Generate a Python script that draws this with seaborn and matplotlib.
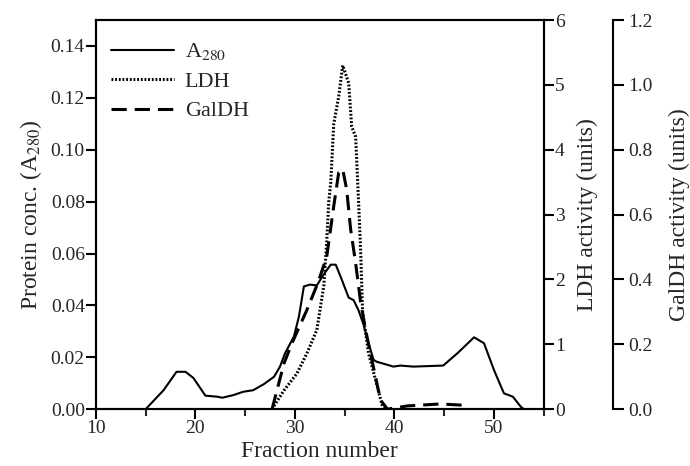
import seaborn as sns
import pandas as pd
import numpy as np
import matplotlib.pyplot as plt
from matplotlib.ticker import MultipleLocator, FormatStrFormatter

# A280 protein profile
a280_frac = [15.0, 16.8, 18.1, 19.0, 19.8, 21.0, 22.2, 22.7, 23.8, 24.8, 25.8, 26.9, 27.9, 28.5,
             29.0, 29.9, 30.4, 30.9, 31.5, 32.2, 32.9, 33.6, 34.1, 34.7, 35.4, 35.9, 36.4, 36.9,
             37.4, 37.9, 38.2, 39.9, 40.6, 41.9, 44.9, 46.4, 48.0, 49.0, 50.0, 51.0, 51.9, 52.7, 53.0]
a280_val = [0.0, 0.0073, 0.0144, 0.0144, 0.012, 0.0052, 0.0048, 0.0044, 0.0054, 0.0067, 0.0073,
            0.0097, 0.0125, 0.0164, 0.0215, 0.028, 0.0357, 0.0473, 0.048, 0.0477, 0.052, 0.0557,
            0.0557, 0.050, 0.043, 0.042, 0.038, 0.0325, 0.0254, 0.019, 0.0183, 0.0164, 0.0168,
            0.0164, 0.0168, 0.0218, 0.0277, 0.0254, 0.0151, 0.0061, 0.0048, 0.0009, 0.0]

# LDH activity
ldh_frac = [27.7, 28.9, 30.2, 31.2, 32.2, 32.9, 33.2, 33.4, 33.6, 33.9, 34.4, 34.8, 35.4, 35.7,
            36.1, 36.4, 36.6, 36.8, 37.4, 38.1, 38.8, 39.2]
ldh_val = [0.0, 0.29, 0.55, 0.86, 1.22, 1.9, 2.6, 3.2, 3.5, 4.4, 4.82, 5.3, 5.03, 4.36,
           4.2, 3.18, 2.45, 1.5, 0.86, 0.45, 0.04, 0.0]

# GalDH activity
galdh_frac = [27.7, 28.9, 29.7, 31.2, 32.3, 33.2, 33.9, 34.4, 34.8, 35.2, 35.6, 36.1, 36.6, 37.1,
              37.8, 38.6, 39.3, 41.3, 44.6, 47.0]
galdh_val = [0.0, 0.141, 0.203, 0.306, 0.389, 0.471, 0.626, 0.73, 0.74, 0.677, 0.554, 0.45, 0.33,
             0.244, 0.142, 0.028, 0.0, 0.01, 0.016, 0.012]

sns.set_style("ticks")
plt.rcParams['font.family'] = ['Liberation Serif', 'DejaVu Serif']
plt.rcParams['mathtext.fontset'] = 'stix'
plt.rcParams['axes.linewidth'] = 1.5

fig = plt.figure(figsize=(6.9, 4.66), dpi=100)
ax = fig.add_axes([0.139, 0.122, 0.649, 0.835])
ax2 = ax.twinx()
ax3 = ax.twinx()
ax3.spines['right'].set_position(('axes', 1.154))

df_a = pd.DataFrame({'frac': a280_frac, 'val': a280_val})
df_l = pd.DataFrame({'frac': ldh_frac, 'val': ldh_val})
df_g = pd.DataFrame({'frac': galdh_frac, 'val': galdh_val})

sns.lineplot(data=df_a, x='frac', y='val', ax=ax, color='black', lw=1.5, sort=False,
             legend=False)
sns.lineplot(data=df_l, x='frac', y='val', ax=ax2, color='black', lw=2.2, sort=False,
             linestyle=(0, (0.6, 0.6)), legend=False)
sns.lineplot(data=df_g, x='frac', y='val', ax=ax3, color='black', lw=2.2, sort=False,
             linestyle=(0, (5, 2.6)), legend=False)

ax.set_xlim(10, 55)
ax.set_ylim(0, 0.15)
ax2.set_ylim(0, 6)
ax3.set_ylim(0, 1.2)

ax.xaxis.set_major_locator(MultipleLocator(10))
ax.xaxis.set_minor_locator(MultipleLocator(5))
ax.yaxis.set_major_locator(MultipleLocator(0.02))
ax.yaxis.set_major_formatter(FormatStrFormatter('%.2f'))
ax2.yaxis.set_major_locator(MultipleLocator(1))
ax3.yaxis.set_major_locator(MultipleLocator(0.2))
ax3.yaxis.set_major_formatter(FormatStrFormatter('%.1f'))

for a in (ax, ax2, ax3):
    a.tick_params(axis='both', which='major', direction='out', length=7, width=1.5,
                  labelsize=14, pad=1, color='black')
    a.tick_params(axis='both', which='minor', direction='out', length=5, width=1.5)
    for s in a.spines.values():
        s.set_color('black')
        s.set_linewidth(1.5)

ax3.spines['top'].set_visible(False)
ax3.spines['left'].set_visible(False)
ax3.spines['bottom'].set_visible(False)
ax3.tick_params(axis='y', length=8, pad=3)

ax.set_xlabel('Fraction number', fontsize=17, labelpad=3)
ax.set_ylabel('Protein conc. (A$_{280}$)', fontsize=17, labelpad=5)
ax2.set_ylabel('LDH activity (units)', fontsize=17, labelpad=9)
ax3.set_ylabel('GalDH activity (units)', fontsize=17, labelpad=12)

handles = [ax.lines[0], ax2.lines[0], ax3.lines[0]]
ax.legend(handles, ['A$_{280}$', 'LDH', 'GalDH'], loc='upper left', frameon=False,
          fontsize=16, handlelength=2.8, handletextpad=0.5, labelspacing=0.4,
          borderaxespad=0.3, bbox_to_anchor=(0.0, 0.985))

fig.savefig('out.png', dpi=100)
